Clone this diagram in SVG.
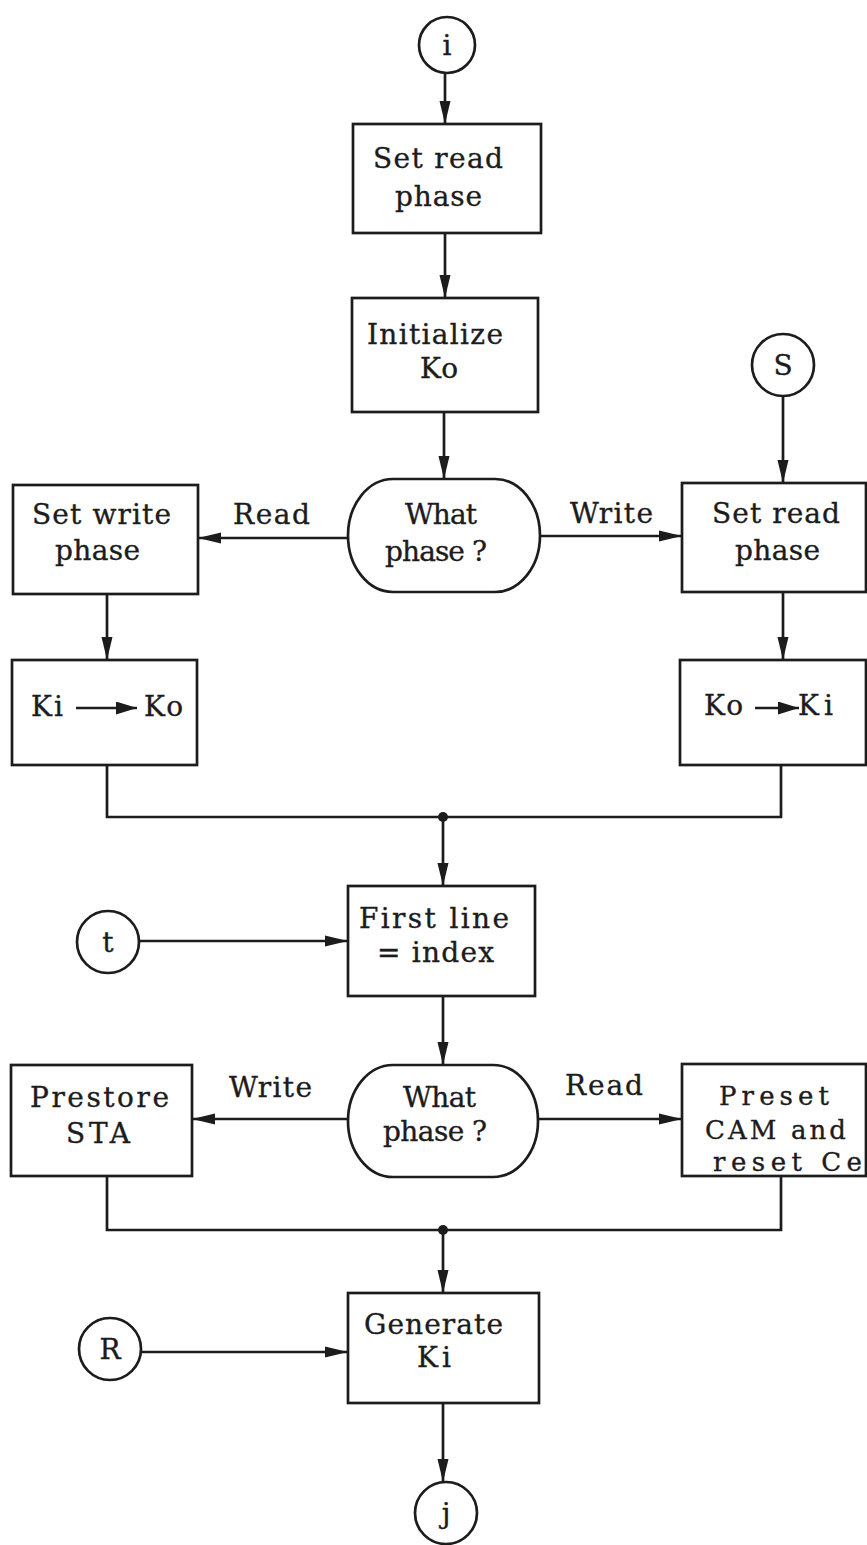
<svg xmlns="http://www.w3.org/2000/svg" width="867" height="1545" viewBox="0 0 867 1545">
<defs>
<marker id="ah" markerUnits="userSpaceOnUse" markerWidth="23" markerHeight="12" refX="23" refY="6" orient="auto">
<path d="M0,0.5 L23,6 L0,11.5 Z" fill="#1c1c1c"/>
</marker>
<marker id="ah2" markerUnits="userSpaceOnUse" markerWidth="21" markerHeight="13" refX="21" refY="6.5" orient="auto">
<path d="M0,0 L21,6.5 L0,13 Z" fill="#1c1c1c"/>
</marker>
</defs>
<style>
.box{fill:#fff;stroke:#1c1c1c;stroke-width:2.7}
.ln{fill:none;stroke:#1c1c1c;stroke-width:2.7}
.ar{fill:none;stroke:#1c1c1c;stroke-width:2.7;marker-end:url(#ah)}
.t{font-family:"DejaVu Serif","Liberation Serif",serif;font-size:28px;fill:#1c1c1c;stroke:#1c1c1c;stroke-width:0.35}
.s{font-size:26px}
.c{text-anchor:middle}
.dot{fill:#1c1c1c}
</style>
<rect width="867" height="1545" fill="#fff"/>

<g id="connectors">
<line class="ar" x1="445" y1="73" x2="445" y2="124"/>
<line class="ar" x1="445" y1="233" x2="445" y2="298"/>
<line class="ar" x1="444" y1="412" x2="444" y2="479"/>
<line class="ar" x1="348" y1="538" x2="198" y2="538"/>
<line class="ar" x1="540" y1="536" x2="682" y2="536"/>
<line class="ar" x1="783" y1="396" x2="783" y2="483"/>
<line class="ar" x1="107" y1="594" x2="107" y2="660"/>
<line class="ar" x1="783" y1="592" x2="783" y2="660"/>
<polyline class="ln" points="107,765 107,817 781,817 781,765"/>
<circle class="dot" cx="443" cy="817" r="5"/>
<line class="ar" x1="443" y1="817" x2="443" y2="886"/>
<line class="ar" x1="139" y1="941" x2="348" y2="941"/>
<line class="ar" x1="443" y1="996" x2="443" y2="1065"/>
<line class="ar" x1="348" y1="1119" x2="192" y2="1119"/>
<line class="ar" x1="538" y1="1119" x2="682" y2="1119"/>
<polyline class="ln" points="107,1176 107,1230 781,1230 781,1176"/>
<circle class="dot" cx="443" cy="1230" r="5"/>
<line class="ar" x1="443" y1="1230" x2="443" y2="1293"/>
<line class="ar" x1="142" y1="1352" x2="348" y2="1352"/>
<line class="ar" x1="443" y1="1403" x2="443" y2="1482"/>
<text class="t" x="233" y="524" textLength="77" lengthAdjust="spacing">Read</text>
<text class="t" x="570" y="523" textLength="83" lengthAdjust="spacing">Write</text>
<text class="t" x="229" y="1097" textLength="83" lengthAdjust="spacing">Write</text>
<text class="t" x="565" y="1095" textLength="78" lengthAdjust="spacing">Read</text>
</g>

<g id="node-i">
<circle class="box" cx="447" cy="45" r="28"/>
<text class="t c" x="447" y="55">i</text>
</g>

<g id="node-set-read-1">
<rect class="box" x="353" y="124" width="188" height="109"/>
<text class="t" x="373" y="168" textLength="130" lengthAdjust="spacing">Set read</text>
<text class="t" x="395" y="206" textLength="87" lengthAdjust="spacing">phase</text>
</g>

<g id="node-init-ko">
<rect class="box" x="352" y="298" width="186" height="114"/>
<text class="t" x="367" y="344" textLength="136" lengthAdjust="spacing">Initialize</text>
<text class="t" x="420" y="378" textLength="38" lengthAdjust="spacing">Ko</text>
</g>

<g id="node-what-phase-1">
<path class="box" d="M393,479 H495 A45,56.5 0 0 1 495,592 H393 A45,56.5 0 0 1 393,479 Z"/>
<text class="t" x="405" y="524" textLength="72" lengthAdjust="spacing">What</text>
<text class="t" x="385" y="561" textLength="102" lengthAdjust="spacing">phase ?</text>
</g>

<g id="node-s">
<circle class="box" cx="783" cy="365" r="31"/>
<text class="t c" x="783" y="375">S</text>
</g>

<g id="node-set-write">
<rect class="box" x="13" y="485" width="185" height="109"/>
<text class="t" x="32" y="524" textLength="139" lengthAdjust="spacing">Set write</text>
<text class="t" x="55" y="560" textLength="85" lengthAdjust="spacing">phase</text>
</g>

<g id="node-set-read-2">
<rect class="box" x="682" y="483" width="184" height="109"/>
<text class="t" x="712" y="523" textLength="128" lengthAdjust="spacing">Set read</text>
<text class="t" x="735" y="560" textLength="85" lengthAdjust="spacing">phase</text>
</g>

<g id="node-ki-ko">
<rect class="box" x="12" y="660" width="185" height="105"/>
<text class="t" x="31" y="716" textLength="32" lengthAdjust="spacing">Ki</text>
<line x1="76" y1="708" x2="137" y2="708" stroke="#1c1c1c" stroke-width="2.7" marker-end="url(#ah2)"/>
<text class="t" x="144" y="716" textLength="39" lengthAdjust="spacing">Ko</text>
</g>

<g id="node-ko-ki">
<rect class="box" x="680" y="660" width="186" height="105"/>
<text class="t" x="704" y="715" textLength="39" lengthAdjust="spacing">Ko</text>
<line x1="755" y1="708" x2="799" y2="708" stroke="#1c1c1c" stroke-width="2.7" marker-end="url(#ah2)"/>
<text class="t" x="798" y="715" textLength="35" lengthAdjust="spacing">Ki</text>
</g>

<g id="node-t">
<circle class="box" cx="108" cy="942" r="31"/>
<text class="t c" x="108" y="952">t</text>
</g>

<g id="node-first-line">
<rect class="box" x="348" y="886" width="187" height="110"/>
<text class="t" x="359" y="928" textLength="150" lengthAdjust="spacing">First line</text>
<text class="t" x="377" y="962" textLength="117" lengthAdjust="spacing">=  index</text>
</g>

<g id="node-what-phase-2">
<path class="box" d="M393,1065 H493 A45,56 0 0 1 493,1177 H393 A45,56 0 0 1 393,1065 Z"/>
<text class="t" x="403" y="1107" textLength="73" lengthAdjust="spacing">What</text>
<text class="t" x="383" y="1141" textLength="104" lengthAdjust="spacing">phase ?</text>
</g>

<g id="node-prestore">
<rect class="box" x="11" y="1065" width="181" height="111"/>
<text class="t" x="30" y="1107" textLength="139" lengthAdjust="spacing">Prestore</text>
<text class="t" x="66" y="1143" textLength="64" lengthAdjust="spacing">STA</text>
</g>

<g id="node-preset">
<rect class="box" x="682" y="1064" width="184" height="112"/>
<text class="t s" x="719" y="1105" textLength="110" lengthAdjust="spacing">Preset</text>
<text class="t s" x="705" y="1139" textLength="141" lengthAdjust="spacing">CAM and</text>
<text class="t s" x="713" y="1171" textLength="149" lengthAdjust="spacing">reset Ce</text>
</g>

<g id="node-r">
<circle class="box" cx="110" cy="1349" r="31"/>
<text class="t c" x="110" y="1359">R</text>
</g>

<g id="node-generate">
<rect class="box" x="348" y="1293" width="191" height="110"/>
<text class="t" x="364" y="1334" textLength="139" lengthAdjust="spacing">Generate</text>
<text class="t" x="417" y="1367" textLength="34" lengthAdjust="spacing">Ki</text>
</g>

<g id="node-j">
<circle class="box" cx="446" cy="1513" r="31"/>
<text class="t c" x="446" y="1523">j</text>
</g>
</svg>
